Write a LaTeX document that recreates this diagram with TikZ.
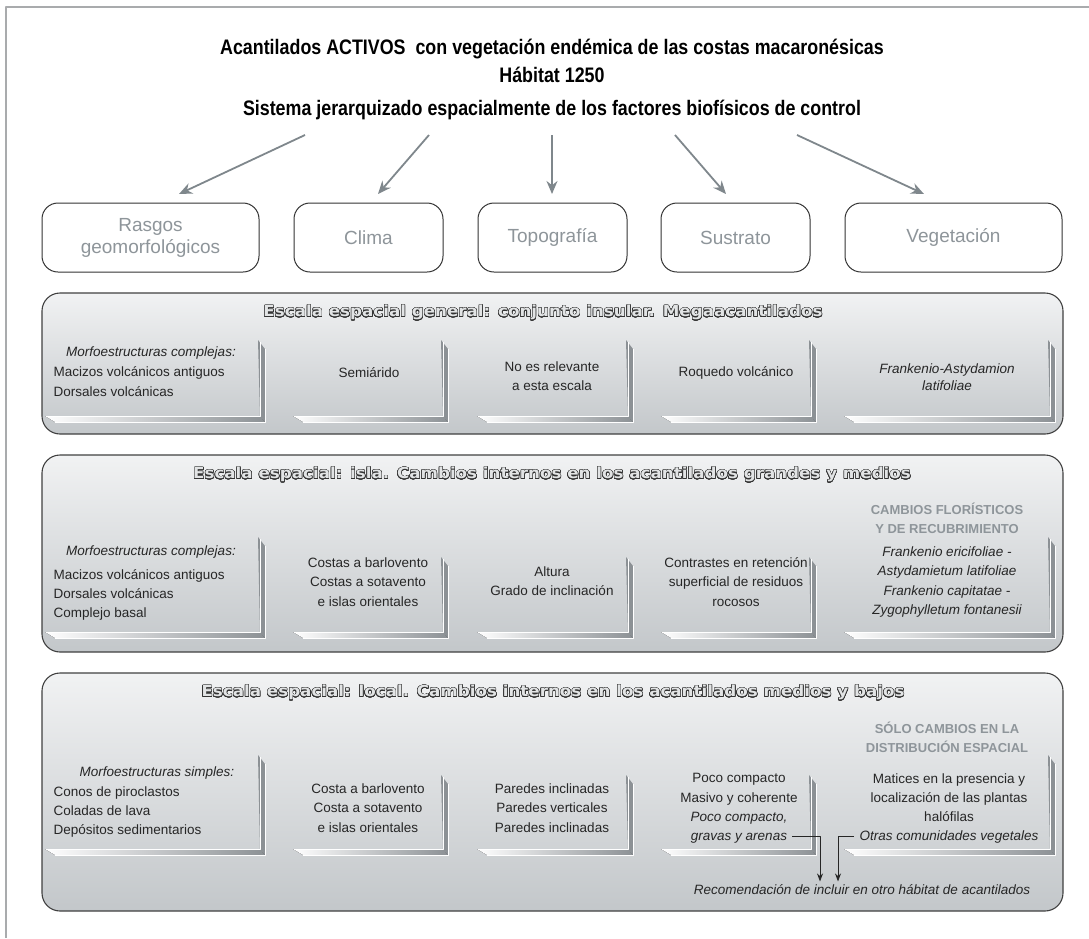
\documentclass[tikz,border=0pt]{standalone}
\usepackage{fontspec}
\setmainfont{Liberation Sans}
\newfontfamily\titlefont[FakeStretch=0.85]{Liberation Sans}
\newfontfamily\escalafont[FakeStretch=1.1]{DejaVu Sans}
\usepackage[copies]{contour}
\contourlength{0.45pt}
\contournumber{24}
\usetikzlibrary{arrows.meta}

\definecolor{boxgray}{HTML}{8E959A}
\definecolor{arrowgray}{HTML}{7F878C}
\definecolor{paneltop}{HTML}{F1F2F3}
\definecolor{panelbot}{HTML}{C3C7CA}
\definecolor{headfill}{HTML}{E2E4E5}
\definecolor{framegray}{HTML}{A9ABAD}
\definecolor{bevelgray}{HTML}{8C9195}

% right and bottom edge of a cell: left, right, top, bottom
\newcommand{\cellbevel}[4]{%
  \fill[left color=white,right color=bevelgray] (#1,#4-6) -- (#2,#4-6) -- (#2+5,#4) -- (#1+10,#4) -- cycle;
  \fill[bevelgray] (#2-2,#3) -- (#2+5,#3+9) -- (#2+5,#4) -- (#2,#4-6) -- cycle;
  \draw[white,line width=0.9pt] (#2,#3+2) -- (#2,#4-6) -- (#1+1,#4-6);
  \draw[white,line width=0.6pt] (#2+5.5,#3+9) -- (#2+5.5,#4+0.5) -- (#1+10,#4+0.5);
}

\begin{document}
\begin{tikzpicture}[x=1pt,y=-1pt,line join=round,>={Stealth[length=13pt,width=11pt]},
    titletext/.style={font=\titlefont\bfseries\fontsize{21}{24}\selectfont,text=black},
    factor/.style={draw=black!80,line width=1pt,rounded corners=16pt,fill=white,text=boxgray,
        font=\fontsize{19}{22}\selectfont,align=center,minimum height=69pt},
    panel/.style={draw=black!75,line width=1.1pt,rounded corners=18pt,top color=paneltop,
        bottom color=panelbot,minimum width=1021pt},
    escala/.style={font=\escalafont\bfseries\fontsize{15.2}{18}\selectfont,text=headfill},
    celltext/.style={font=\fontsize{13.5}{19.3}\selectfont,align=center,text=black!85},
    listtext/.style={celltext,align=left,anchor=west},
    cambios/.style={font=\bfseries\fontsize{13}{19}\selectfont,align=center,text=boxgray},
    factorarrow/.style={->,arrowgray,line width=1.8pt},
    recarrow/.style={-{Stealth[length=8pt,width=6pt]},black!85,line width=0.8pt}]
\useasboundingbox (0,0) rectangle (1089,938);
\draw[framegray,line width=1.5pt] (6,938) -- (6,7) -- (1089,7);

% titles
\node[titletext] (titulo) at (552,49) {Acantilados ACTIVOS\ \ con vegetación endémica de las costas macaronésicas};
\node[titletext] (habitat) at (552,75) {Hábitat 1250};
\node[titletext] (sistema) at (552,110) {Sistema jerarquizado espacialmente de los factores biofísicos de control};

% factors
\node[factor,minimum width=217pt] (rasgos) at (150.5,237.5) {Rasgos\\geomorfológicos};
\node[factor,minimum width=149pt] (clima) at (368.5,237.5) {Clima};
\node[factor,minimum width=149pt] (topo) at (552.5,237.5) {Topografía};
\node[factor,minimum width=149pt] (sustrato) at (735.5,237.5) {Sustrato};
\node[factor,minimum width=217pt] (veget) at (953.5,237.5) {Vegetación};

\coordinate (s1) at (305,135); \coordinate (e1) at (179,194);
\coordinate (s2) at (429,135); \coordinate (e2) at (378,194);
\coordinate (s3) at (552,135); \coordinate (e3) at (552,194);
\coordinate (s4) at (675,135); \coordinate (e4) at (726,194);
\coordinate (s5) at (797,135); \coordinate (e5) at (924,194);
\foreach \i in {1,...,5}{
    \draw[factorarrow] (s\i) -- (e\i);
}

% scale panels
\node[panel,minimum height=141pt] (general) at (552.5,363.5) {};
\node[panel,minimum height=197pt] (isla) at (552.5,553.5) {};
\node[panel,minimum height=238pt] (local) at (552.5,792) {};

\node[escala] (tgeneral) at (543,313) {\contour{black!80}{Escala espacial general: conjunto insular. Megaacantilados}};
\node[escala] (tisla) at (552,475) {\contour{black!80}{Escala espacial: isla. Cambios internos en los acantilados grandes y medios}};
\node[escala] (tlocal) at (553,693) {\contour{black!80}{Escala espacial: local. Cambios internos en los acantilados medios y bajos}};

\foreach \l/\r in {45/260,293/443,477/628,661/811,844/1050}{
    \cellbevel{\l}{\r}{340}{422}
}
\foreach \l/\r/\t in {45/260/537,293/443/557,477/628/557,661/811/557,844/1050/537}{
    \cellbevel{\l}{\r}{\t}{638}
}
\foreach \l/\r/\t in {45/260/755,293/443/775,477/628/775,661/811/775,844/1050/755}{
    \cellbevel{\l}{\r}{\t}{855}
}

% general scale
\node[celltext] (g1) at (151,353) {\itshape Morfoestructuras complejas:};
\node[listtext] (g1b) at (50,381.5) {Macizos volcánicos antiguos\\Dorsales volcánicas};
\node[celltext] (g2) at (369,373) {Semiárido};
\node[celltext] (g3) at (552,376.5) {No es relevante\\a esta escala};
\node[celltext] (g4) at (736,373) {Roquedo volcánico};
\node[celltext,font=\itshape\fontsize{13.5}{16.5}\selectfont] (g5) at (947,377) {Frankenio-Astydamion\\latifoliae};

% island scale
\node[celltext] (i1) at (151,552) {\itshape Morfoestructuras complejas:};
\node[listtext] (i1b) at (50,595) {Macizos volcánicos antiguos\\Dorsales volcánicas\\Complejo basal};
\node[celltext] (i2) at (368,582) {Costas a barlovento\\Costas a sotavento\\e islas orientales};
\node[celltext] (i3) at (552,581.5) {Altura\\Grado de inclinación};
\node[celltext] (i4) at (736,582) {Contrastes en retención\\superficial de residuos\\rocosos};
\node[cambios] (i5a) at (947,518.5) {CAMBIOS FLORÍSTICOS\\Y DE RECUBRIMIENTO};
\node[celltext,font=\itshape\fontsize{13.5}{19.3}\selectfont] (i5) at (947,582) {Frankenio ericifoliae -\\Astydamietum latifoliae\\Frankenio capitatae -\\Zygophylletum fontanesii};

% local scale
\node[celltext] (l1) at (157,773) {\itshape Morfoestructuras simples:};
\node[listtext] (l1b) at (50,812) {Conos de piroclastos\\Coladas de lava\\Depósitos sedimentarios};
\node[celltext] (l2) at (368,808) {Costa a barlovento\\Costa a sotavento\\e islas orientales};
\node[celltext] (l3) at (552,808) {Paredes inclinadas\\Paredes verticales\\Paredes inclinadas};
\node[celltext] (l4) at (739,808.5) {Poco compacto\\Masivo y coherente\\\itshape Poco compacto,\\\itshape gravas y arenas};
\node[cambios] (l5a) at (947,737.5) {SÓLO CAMBIOS EN LA\\DISTRIBUCIÓN ESPACIAL};
\node[celltext] (l5) at (949,808.5) {Matices en la presencia y\\localización de las plantas\\halófilas\\\itshape Otras comunidades vegetales};

\node[celltext,font=\itshape\fontsize{13.5}{16}\selectfont] (recom) at (862,890) {Recomendación de incluir en otro hábitat de acantilados};
\coordinate (gravas) at (792,836);
\coordinate (otras) at (854,836);
\draw[recarrow] (gravas) -| ([xshift=-42pt]recom.north);
\draw[recarrow] (otras) -| ([xshift=-24pt]recom.north);
\end{tikzpicture}
\end{document}
